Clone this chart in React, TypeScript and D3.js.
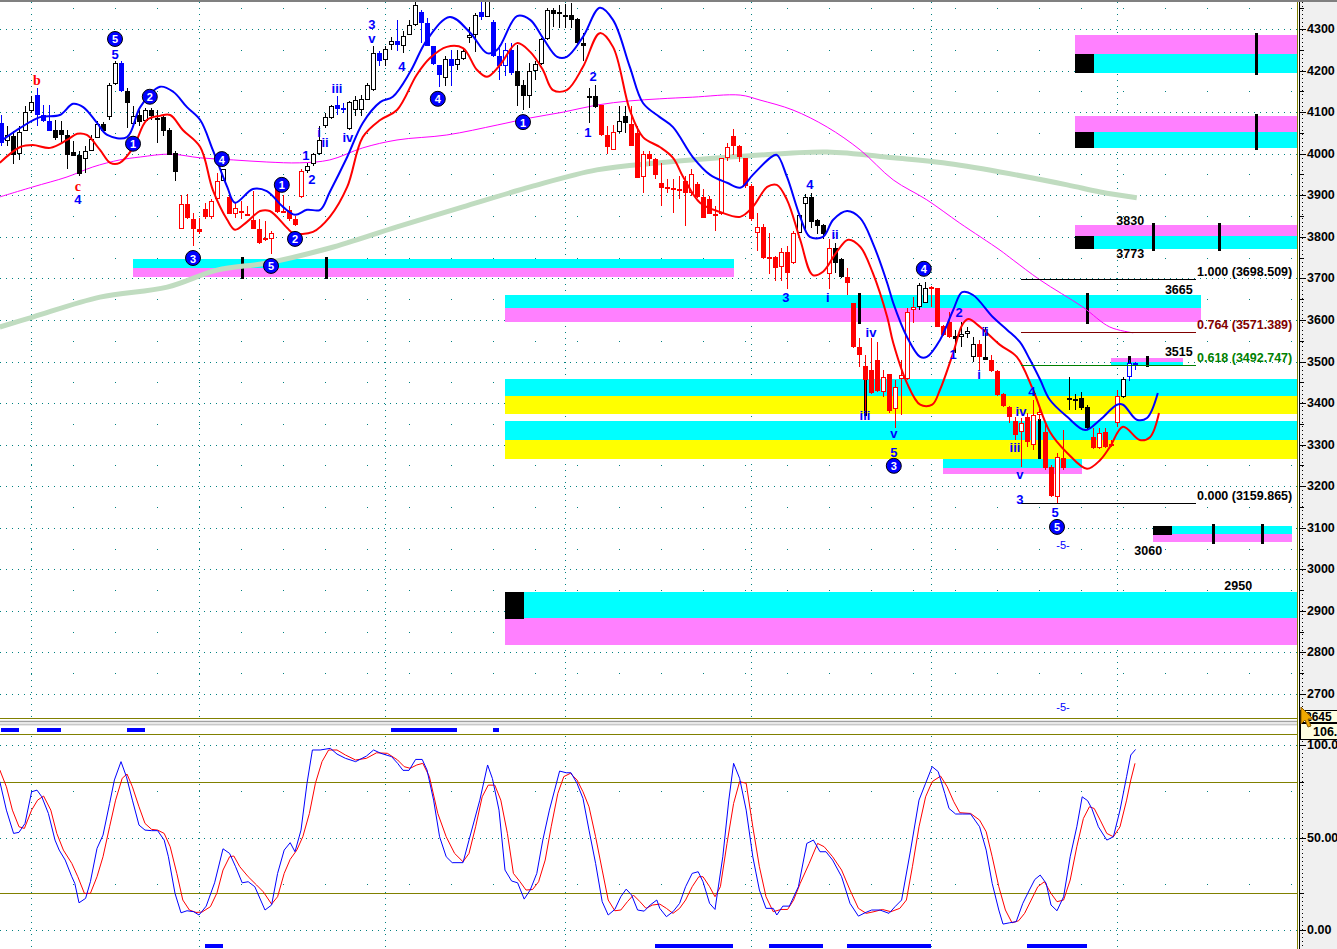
import React from 'react';
import * as d3 from 'd3';

const FONT = '"Liberation Sans", Arial, sans-serif';

// one candle per bar: open, high, low, close
const bars = [
  [4074,4094,4018,4026],[4030,4066,4018,4046],[4042,4054,3974,3998],[4000,4066,3986,4052],[4054,4114,4054,4100],
  [4102,4138,4098,4124],[4142,4158,4066,4094],[4092,4116,4076,4078],[4078,4118,4054,4054],[4058,4082,4034,4038],
  [4058,4078,4026,4046],[4046,4058,3962,3998],[4005,4030,3994,3994],[3996,4006,3946,3950],[3988,4018,3954,4006],
  [4006,4046,4006,4036],[4038,4078,4038,4072],[4072,4076,4050,4054],[4088,4170,4082,4166],[4168,4222,4166,4218],
  [4218,4222,4148,4150],[4150,4158,4062,4122],[4072,4114,4070,4090],[4092,4106,4066,4076],[4078,4110,4076,4106],
  [4104,4110,4082,4090],[4080,4106,4026,4086],[4088,4090,4042,4054],[4058,4062,3998,3998],[4002,4006,3934,3956],
  [3818,3900,3818,3880],[3880,3902,3842,3846],[3844,3858,3778,3818],[3820,3846,3806,3812],[3866,3882,3842,3848],
  [3848,3890,3842,3885],[3890,3954,3890,3934],[3934,3962,3934,3962],[3896,3906,3854,3856],[3856,3882,3846,3870],
  [3862,3886,3842,3858],[3856,3874,3850,3852],[3840,3910,3818,3818],[3820,3842,3782,3786],[3797,3838,3790,3792],
  [3794,3814,3758,3810],[3920,3922,3858,3860],[3862,3900,3858,3860],[3864,3874,3838,3842],[3842,3850,3826,3828],
  [3896,3962,3894,3958],[3958,3978,3954,3970],[3974,4002,3970,4000],[4000,4066,3998,4032],[4066,4098,4062,4088],
  [4086,4118,4084,4114],[4118,4138,4094,4108],[4110,4122,4098,4104],[4060,4126,4058,4124],[4106,4138,4090,4128],
  [4104,4142,4090,4132],[4130,4170,4128,4166],[4154,4258,4150,4242],[4242,4246,4210,4222],[4226,4258,4210,4252],
  [4262,4280,4250,4270],[4270,4322,4246,4262],[4258,4294,4242,4282],[4286,4322,4286,4310],[4310,4370,4308,4358],
  [4342,4346,4266,4314],[4314,4326,4258,4260],[4260,4260,4214,4216],[4214,4214,4160,4190],[4182,4234,4164,4228],
  [4228,4250,4164,4210],[4214,4250,4202,4228],[4228,4252,4226,4248],[4278,4306,4266,4286],[4286,4338,4244,4334],
  [4340,4370,4322,4328],[4330,4390,4328,4368],[4318,4322,4232,4234],[4236,4262,4178,4210],[4210,4266,4186,4250],
  [4250,4266,4190,4194],[4200,4262,4114,4164],[4166,4178,4106,4138],[4140,4218,4110,4200],[4200,4222,4178,4216],
  [4216,4278,4214,4276],[4276,4350,4274,4346],[4346,4350,4306,4336],[4335,4358,4302,4340],[4334,4360,4302,4332],
  [4334,4362,4302,4322],[4324,4326,4262,4266],[4266,4290,4222,4260],[4134,4158,4074,4140],[4140,4166,4110,4112],
  [4116,4118,4042,4044],[4046,4066,4000,4016],[4010,4070,4008,4052],[4052,4114,4050,4078],[4090,4114,4050,4074],
  [4072,4114,4018,4018],[4050,4066,3942,3942],[3944,4006,3906,4000],[4000,4006,3970,3988],[3988,3990,3938,3948],
  [3930,3978,3874,3918],[3920,3938,3906,3917],[3918,3938,3858,3912],[3915,3946,3890,3910],[3934,3946,3826,3906],
  [3906,3962,3898,3950],[3926,3932,3894,3896],[3896,3914,3846,3846],[3892,3898,3854,3856],[3856,3874,3814,3850],
  [3854,3990,3852,3990],[3990,4026,3982,4016],[4042,4060,3998,4018],[4018,4022,3980,3992],[3990,3990,3918,3922],
  [3922,3926,3838,3842],[3810,3858,3766,3824],[3824,3830,3746,3750],[3748,3810,3710,3752],[3752,3754,3694,3724],
  [3728,3772,3694,3764],[3764,3778,3674,3712],[3738,3814,3734,3810],[3810,3858,3810,3852],[3880,3902,3818,3896],
  [3896,3906,3822,3836],[3840,3842,3806,3826],[3828,3832,3794,3806],[3710,3794,3674,3774],[3774,3786,3714,3738],
  [3746,3750,3702,3704],[3704,3724,3660,3690],[3640,3640,3532,3534],[3536,3556,3487,3516],[3489,3515,3376,3455],
  [3479,3556,3423,3425],[3503,3548,3427,3430],[3427,3479,3415,3463],[3469,3471,3375,3382],[3385,3455,3339,3439],
  [3457,3503,3371,3467],[3457,3628,3455,3620],[3625,3656,3592,3630],[3630,3688,3625,3684],[3641,3692,3640,3676],
  [3675,3682,3632,3680],[3676,3676,3584,3584],[3585,3588,3561,3564],[3596,3620,3556,3558],[3561,3576,3520,3553],
  [3558,3596,3536,3566],[3566,3584,3556,3573],[3511,3558,3499,3542],[3543,3551,3479,3510],[3510,3584,3503,3503],
  [3503,3515,3475,3478],[3478,3479,3417,3419],[3422,3425,3391,3394],[3391,3393,3351,3367],[3357,3367,3311,3323],
  [3331,3363,3247,3351],[3367,3375,3295,3307],[3299,3407,3287,3371],[3371,3391,3359,3379],[3331,3353,3240,3243],
  [3247,3251,3175,3176],[3173,3279,3159,3271],[3267,3334,3240,3243],[3411,3463,3383,3407],[3409,3423,3383,3406],
  [3411,3427,3383,3387],[3391,3395,3335,3339],[3319,3339,3289,3291],[3291,3339,3289,3327],[3331,3339,3291,3295],
  [3297,3311,3295,3302],[3353,3431,3342,3417],[3415,3463,3411,3459],[3462,3504,3452,3496],[3496,3500,3480,3488],
];
// B blue, K black, R red
const barColors =
  'BKKKKKBBBK' + 'KKKKKKKKKK' + 'BKKKKKKKKK' + 'RRRRRRRKRR' + 'RRRRRRRRRR' +
  'RKKKKKBBKK' + 'KKKBKKBKKK' + 'BBBBKBKKKK' + 'BKBBBBKKKK' + 'KKKKKKKKKK' +
  'RRRKKRRRRR' + 'RRRRRRRRRR' + 'RRRRRRRRRR' + 'RRRKKKKKRK' + 'KRRRRRRRRR' +
  'RRRKKRRRRK' + 'KKKRKRRRRR' + 'RRRRRRRRKK' + 'KKRRRRRKBB';

// moving averages, [bar, price]
const blueMA = [
  [-0.2,4028],[3.2,4062],[6.5,4088],[9.8,4093],[12,4120],[13.7,4112],[16,4074],[17.7,4045],[21,4040],
  [23.2,4112],[26.5,4161],[28.7,4149],[31,4112],[33.2,4081],[35.3,4009],[37.7,3920],[39,3882],[42,3915],
  [44.3,3910],[47,3872],[49,3853],[51,3865],[53.2,3865],[54.8,3908],[57.7,3992],[60.3,4074],[63.2,4124],
  [65.3,4137],[68.2,4197],[71,4274],[74.8,4329],[78.2,4291],[81,4242],[82.7,4250],[86,4331],[88.2,4322],
  [90.3,4279],[92.7,4233],[94.3,4233],[97,4281],[99.8,4351],[102,4322],[104.8,4209],[107,4122],[109.8,4088],
  [112,4064],[115.3,3992],[118.2,3949],[121,3930],[123.2,3918],[125.3,3949],[128.2,3990],[129.3,3997],
  [131,3944],[133.2,3848],[134.8,3800],[137,3800],[138.7,3841],[141,3862],[143.2,3845],[145.3,3785],
  [147.7,3689],[148.7,3641],[151,3559],[153.2,3511],[154.3,3511],[156.5,3552],[158.7,3624],[160.2,3667],
  [162,3660],[165.3,3607],[167.7,3576],[169.8,3547],[171.5,3504],[173.2,3456],[174.8,3408],[177.7,3367],
  [180.7,3335],[183.2,3360],[186,3396],[187,3396],[189.3,3360],[191,3364],[192.8,3424],
];
const redMA = [
  [-0.2,3978],[3.2,4016],[5.3,4021],[8.2,4014],[11,4033],[12.7,4048],[14.3,4045],[16.5,4009],[18.2,3978],
  [19.8,3978],[22,4014],[24.3,4081],[26.5,4091],[28.2,4093],[30.3,4057],[33.2,4016],[35.3,3913],[37.7,3841],
  [39,3817],[41,3836],[43.2,3862],[44.8,3862],[47.7,3821],[48.7,3809],[52,3812],[54.8,3848],[57.7,3920],
  [60.3,4040],[63.2,4081],[66,4105],[69.3,4190],[71.5,4230],[74.3,4257],[77,4254],[79.3,4202],[81,4185],
  [83.2,4214],[86,4266],[88.2,4245],[90.3,4202],[92,4153],[94.3,4153],[97,4209],[99.8,4290],[102,4257],
  [104.8,4105],[107,4040],[109.8,4016],[112,3990],[113.7,3944],[116.5,3882],[119.8,3860],[123.2,3848],
  [125.3,3872],[127.7,3920],[129.3,3925],[131,3889],[133.2,3793],[135.3,3708],[137,3716],[139.3,3764],
  [141.2,3793],[143.2,3776],[145.3,3713],[147.7,3607],[148.7,3545],[151,3448],[153.2,3396],[155.2,3396],
  [156.5,3432],[158.7,3521],[160.2,3588],[161.2,3602],[163.2,3583],[166.5,3540],[169.3,3511],[172,3432],
  [174.8,3331],[177.7,3280],[181,3242],[183.2,3263],[184.8,3294],[187,3343],[189.8,3311],[191.5,3318],[193,3376],
];
const magentaMA = [
  [-0.2,3896],[5.3,3920],[11,3944],[15.3,3968],[19.8,3985],[23.2,3992],[28.2,3999],[33.2,3990],[38.7,3985],
  [44.3,3980],[49.8,3978],[54.8,3985],[60.3,4014],[66,4033],[74.3,4045],[82.7,4069],[88.2,4086],[93.7,4100],
  [99.3,4117],[104.8,4127],[109.8,4132],[115.3,4136],[123.2,4141],[126.5,4129],[132,4105],[137.7,4064],
  [143.2,4009],[148.7,3937],[154.3,3889],[159.8,3833],[166.5,3768],[168.7,3744],[173.2,3696],[180.3,3631],
  [184.8,3583],[188.7,3569],
];
const greenMA = [
  [-0.2,3583],[5.3,3607],[16.5,3655],[27.7,3679],[36,3720],[44.3,3737],[54.8,3773],[66,3824],[77,3872],
  [88.2,3920],[99.3,3961],[109.8,3978],[124.8,3995],[137.7,4004],[148.7,3990],[157,3978],[166.5,3956],
  [177.7,3925],[183.2,3908],[189.3,3894],
];

// stochastic %K (blue) and %D (red), [bar, value]
const stochK = [
  [-0.2,80.2],[0.9,64.8],[2.1,52.2],[3,52.8],[4,57.6],[5.1,74.7],[6,75.6],[6.8,72],[7.9,63],[9,48.6],
  [9.7,43.2],[10.7,37.8],[11.8,28.8],[12.3,25.2],[13,14.7],[14.1,17.1],[14.9,26.1],[16,44.1],[17,51.3],
  [18.1,68.4],[18.9,81.1],[20,91],[20.9,82.9],[21.9,70.2],[23,56.7],[24,54],[25.1,53.7],[26.1,53.7],
  [27.2,48.6],[27.9,39.6],[29,19.8],[30,9.3],[31,10.4],[32.1,9.9],[33,8.1],[34.2,12.9],[35.6,25.5],
  [37,43.9],[38.1,41.4],[39.1,34.2],[40.2,25.5],[41.2,26.1],[42.3,23.4],[44,10.8],[45.1,13.5],[46.1,30.6],
  [47.2,43.2],[48.2,47.2],[49,42.3],[50,54],[51,79.3],[51.9,97.3],[53.2,97.3],[54.9,98.2],[56,95.1],
  [57.4,92.8],[59.1,91],[60.9,94],[62.1,97.3],[63.3,95.5],[65.1,93.7],[66.1,90.1],[67,86.3],[68,86.3],
  [69.1,92.2],[70.2,92.2],[71,86.5],[72.1,70.2],[73.1,50.4],[74.2,39.6],[75.2,36.4],[77,36.4],[78,48.6],
  [79.8,70.2],[81.1,89.2],[81.9,81.9],[83,64.8],[84,32.4],[85.1,26.5],[86.1,25.5],[87.2,16.7],[88.2,21.6],
  [89.3,30.6],[90.3,48.6],[91.4,64.8],[93.1,85.9],[94.2,85],[95,85],[96,79.3],[97,71.1],[98,54],[99.1,36],
  [100.2,15.3],[101.2,8.1],[102.3,11.1],[103.3,18],[104.2,22.1],[105.1,18.9],[106.1,10.8],[107.2,10.2],
  [108.2,13.5],[109.3,16.2],[109.8,11.7],[110.9,7.2],[112,9.9],[113.1,14.4],[114.1,23.4],[115.2,30.6],
  [116.2,31.5],[117,26.1],[118.1,14.4],[119,11.1],[120.3,39.6],[121.3,70.2],[122.1,90.1],[123.1,82],
  [124.2,64.8],[125.3,39.6],[126.4,21.6],[127.5,11.7],[128.7,11.7],[129.3,8.1],[130.3,12.9],[131.4,12.9],
  [132.9,23.4],[134.3,46.8],[135.4,48.6],[136.5,42.3],[137.5,42.3],[138.6,37.8],[140.1,28.8],[141.5,14.4],
  [142.9,7.5],[144,9.3],[145.1,10.8],[146.5,10.8],[148,9],[149,12.6],[150.1,16.2],[151.6,43.2],[153,70.2],
  [154.1,79.3],[155.2,88.3],[156.2,85.6],[157.3,73.8],[158,65.7],[159.1,62.7],[160.2,62.7],[161.6,62.7],
  [163.1,55.8],[164.2,43.2],[165.2,25.2],[166.3,10.8],[167,3.2],[168.1,3.9],[169.2,4.5],[170.3,14.4],
  [171.4,21.6],[172.3,27.3],[173.2,29.7],[174.2,25.2],[175,13.5],[176,10.4],[177.1,18],[178.2,39.6],
  [179.3,55.8],[180.2,72],[181.1,69.9],[181.8,65.7],[182.9,55.8],[184.3,48.6],[185.4,50.4],[186.5,64.8],
  [187.6,82.9],[188.3,94.6],[189.1,97.6],
];
const stochD = [
  [-0.2,86.5],[0.9,77.4],[1.9,64.8],[3,55.8],[3.9,54.9],[5.1,64.8],[6.1,70.2],[7.1,72.4],[8.3,64.8],
  [9.3,52.2],[10.4,43.2],[11.8,36],[12.8,28.8],[13.9,19.8],[14.9,19.8],[16,28.8],[17,39.6],[18.1,55.8],
  [19.1,70.2],[20.2,82],[21,84.3],[21.9,77.4],[23,66.6],[24,57.6],[25.1,54.4],[26.1,54],[27.2,52.2],
  [28.2,45],[29.3,30.6],[30.3,16.2],[31.4,10.8],[32.5,9.5],[33.5,9.7],[34.9,12.6],[36,20.1],[37,32.4],
  [38.1,39.6],[38.8,40],[39.8,34.2],[41.2,28.8],[42.6,24.3],[43.7,20.7],[45.1,14],[46.1,18],[47.2,30.6],
  [48.2,38.2],[49.3,43.2],[50.3,50.4],[51.4,63],[52.4,79.3],[53.5,91],[54.6,97.3],[56,97.3],[57.4,94.6],
  [59.1,91.9],[60.9,92.8],[62.6,95.8],[64.4,95.5],[66.1,91.9],[67.2,88.3],[68.2,87.4],[69.3,89.2],
  [70.3,90.1],[71.4,82.9],[72.8,63],[74.2,50.4],[75.6,41.4],[77,36.9],[78,41.4],[79.1,55.8],[80.2,72],
  [81.2,78.3],[82.3,78.3],[83.3,70.2],[84.4,52.2],[85.4,30.6],[86.5,26.1],[87.5,21.6],[88.6,21.9],
  [89.6,26.1],[90.7,37.8],[91.7,55.8],[92.8,73.8],[93.8,82.9],[94.9,84.7],[96,81.1],[97,74.7],[98,66.6],
  [99.1,50.4],[100.2,32.4],[101.2,16.2],[102.3,10.4],[103.3,10.8],[104.4,15.3],[105.4,18.9],[106.5,15.3],
  [107.5,11.7],[108.6,13.5],[109.8,14],[110.9,11.7],[112,9],[113.1,11.7],[114.1,16.2],[115.2,23.4],
  [116.3,28.8],[117,28.8],[118.1,23.4],[119,18],[119.9,23.4],[121,46.8],[122.1,68.4],[123.1,80.2],
  [124.2,79.3],[125.3,55.8],[126.4,34.2],[127.5,18],[128.7,9.9],[130,11.1],[131.1,11.1],[132.1,16.2],
  [133.2,25.2],[134.7,36],[136.1,46.8],[137.2,45],[138.6,39.6],[140.1,32.4],[141.5,21.6],[142.9,11.7],
  [144.2,9],[145.5,9.9],[146.9,11.1],[148.3,9.9],[149.8,11.7],[150.9,16.2],[151.9,34.2],[153,55.8],
  [154.1,72],[155.2,80.2],[156.6,83.2],[157.7,77.4],[158.8,69.3],[159.8,63.4],[161.6,63],[163.1,59.4],
  [164.2,53.1],[165.2,39.6],[166.3,23.4],[167.4,10.8],[168.5,3.9],[169.6,5],[170.6,9],[171.7,16.2],
  [172.8,23.4],[173.9,26.1],[175,19.8],[176,15.3],[177.1,16.2],[178.2,27],[179.3,45],[180.4,60.3],
  [181.4,66.6],[182.2,65.7],[183.2,59.4],[184.3,52.2],[185.4,50.4],[186.5,55.8],[187.6,70.2],[188.3,81.1],
  [189,90.1],
];

// signal strips, [from bar, to bar]
const topSignals = [[0,3],[6,10],[21,24],[65,76],[82,83]];
const bottomSignals = [[34,37],[109,122],[128,137],[141,155],[171,181]];

const priceTicks = [4300,4200,4100,4000,3900,3800,3700,3600,3500,3400,3300,3200,3100,3000,2900,2800,2700];
const stochTicks = [100, 50, 0];
const stochTickText = ['100.0', '50.00', '0.00'];
const gridBars = [5, 33, 64, 94, 125, 155, 186];

// support / resistance zones (price bands)
const zones = [
  { from: 22, to: 122.2, hi: 3747, mid: 3725, lo: 3704, kind: 'cm', marks: [40.2, 54.2], block: false },
  { from: 84, to: 200, hi: 3660, mid: 3629, lo: 3595, kind: 'cm', marks: [143, 181], block: false },
  { from: 84, to: 216.2, hi: 3458, mid: 3417, lo: 3374, kind: 'cy', marks: [144], block: false },
  { from: 84, to: 216.2, hi: 3357, mid: 3311, lo: 3266, kind: 'cy', marks: [173], block: false },
  { from: 157, to: 180.2, hi: 3266, mid: 3244, lo: 3229, kind: 'cm', marks: [], block: false },
  { from: 185, to: 197, hi: 3509, mid: 3499, lo: 3492, kind: 'mc', marks: [188, 191], block: false },
  { from: 192, to: 215.2, hi: 3104, mid: 3085, lo: 3066, kind: 'cm', marks: [202, 210.2], block: true },
  { from: 179, to: 216.2, hi: 4286, mid: 4240, lo: 4194, kind: 'mc', marks: [209.2], block: true },
  { from: 179, to: 216.2, hi: 4091, mid: 4052, lo: 4014, kind: 'mc', marks: [209.2], block: true },
  { from: 179, to: 216.2, hi: 3829, mid: 3802, lo: 3771, kind: 'mc', marks: [192, 203], block: true },
  { from: 84, to: 216.2, hi: 2946, mid: 2883, lo: 2818, kind: 'cm', marks: [], block: true },
];
const zoneLabels = [
  [196.3, 3672, '3665'], [196.3, 3524, '3515'], [188.2, 3838, '3830'],
  [188.2, 3759, '3773'], [191.2, 3044, '3060'], [206.2, 2960, '2950'],
];

// fibonacci retracement
const fibHigh = 3698.509;
const fibLow = 3159.865;
const fibLevels = [1.0, 0.764, 0.618, 0.0];
const fibColors = ['#000000', '#800000', '#008000', '#000000'];
const fibSpan = [170, 199.2];

// wave counts, [bar, price, label]
const circleLabels = [
  [19, 4276, '5'], [24.8, 4137, '2'], [22, 4024, '1'], [36.8, 3987, '4'], [46.8, 3925, '1'],
  [32, 3749, '3'], [49, 3795, '2'], [45, 3730, '5'], [72.8, 4132, '4'], [87, 4076, '1'],
  [153.8, 3723, '4'], [148.8, 3249, '3'], [176, 3102, '5'],
];
const blueTexts = [
  [19, 4238, '5'], [12.8, 3889, '4'], [50.8, 3995, '1'], [51.8, 3939, '2'], [53, 4052, 'i'], [54, 4028, 'ii'],
  [56, 4158, 'iii'], [57.8, 4038, 'iv'], [61.8, 4310, '3'], [61.8, 4276, 'v'], [66.8, 4209, '4'],
  [98.7, 4185, '2'], [97.8, 4050, '1'], [134.8, 3925, '4'], [139, 3805, 'ii'], [130.8, 3653, '3'],
  [137.8, 3653, 'i'], [145, 3569, 'iv'], [144, 3369, 'iii'], [148.8, 3326, 'v'], [148.8, 3282, '5'],
  [159.7, 3617, '2'], [158.7, 3516, '1'], [164, 3571, 'ii'], [163, 3468, 'i'], [171.8, 3427, '4'],
  [170, 3379, 'iv'], [169, 3292, 'iii'], [169.8, 3227, 'v'], [169.8, 3169, '3'], [175.7, 3136, '5'],
];
const redTexts = [[6, 4175, 'b'], [12.8, 3920, 'c']];
const smallTexts = [[177, 3059, '-5-'], [177, 2669, '-5-']];

const CANDLE: Record<string, string> = { B: '#0000ff', K: '#000000', R: '#ff0000' };
const BANDS: Record<string, string[]> = {
  cm: ['#00ffff', '#ff80ff'],
  mc: ['#ff80ff', '#00ffff'],
  cy: ['#00ffff', '#ffff00'],
};

export default function App() {
  const x = d3.scaleLinear().domain([0, 216]).range([1, 1297]);
  const y = d3.scaleLinear().domain([4300, 2700]).range([29, 694]);
  const ys = d3.scaleLinear().domain([0, 100]).range([930, 745]);

  const maLine = d3.line<number[]>().x(d => x(d[0])).y(d => y(d[1])).curve(d3.curveCatmullRom.alpha(0.5));
  const stLine = d3.line<number[]>().x(d => x(d[0])).y(d => ys(d[1]));

  const px = (v: number) => Math.round(x(v));
  const PR = 1297;

  return (
    <div style={{ position: 'absolute', left: 0, top: 0, width: 1337, height: 949, overflow: 'hidden', background: '#fff' }}>
      <svg width={1337} height={949} style={{ display: 'block' }} fontFamily={FONT}>
        <defs>
          <clipPath id="pclip"><rect x={0} y={2} width={PR} height={716} /></clipPath>
          <clipPath id="sclip"><rect x={0} y={736} width={PR} height={213} /></clipPath>
        </defs>
        <rect x={0} y={0} width={1337} height={949} fill="#fff" />

        {/* price panel */}
        <g clipPath="url(#pclip)">
          {priceTicks.map(p => (
            <line key={'g' + p} x1={0} x2={PR} y1={Math.round(y(p)) + 0.5} y2={Math.round(y(p)) + 0.5}
              stroke="#008080" strokeDasharray="1,5" />
          ))}
          {priceTicks.map(p => (
            <line key={'h' + p} x1={31} x2={PR} y1={Math.round(y(p + 50)) + 0.5} y2={Math.round(y(p + 50)) + 0.5}
              stroke="#008080" strokeDasharray="1,41" />
          ))}
          {gridBars.map(b => (
            <line key={'v' + b} x1={px(b) + 0.5} x2={px(b) + 0.5} y1={2} y2={718} stroke="#008080" strokeDasharray="1,5" />
          ))}

          {zones.map((z, k) => {
            const x0 = px(z.from);
            const x1 = Math.min(px(z.to), PR);
            const [c1, c2] = BANDS[z.kind];
            const yh = Math.round(y(z.hi)), ym = Math.round(y(z.mid)), yl = Math.round(y(z.lo));
            return (
              <g key={'z' + k}>
                <rect x={x0} y={yh} width={x1 - x0} height={ym - yh} fill={c1} />
                <rect x={x0} y={ym} width={x1 - x0} height={yl - ym} fill={c2} />
                {z.block && (c1 === '#00ffff'
                  ? <rect x={x0} y={yh} width={19} height={ym - yh + 1} fill="#000" />
                  : <rect x={x0} y={ym} width={19} height={yl - ym} fill="#000" />)}
                {z.marks.map((m, j) => (
                  <line key={j} x1={px(m) + 0.5} x2={px(m) + 0.5} y1={yh - 2} y2={yl + 2} stroke="#000" strokeWidth={3} />
                ))}
              </g>
            );
          })}

          <path d={maLine(greenMA) || ''} fill="none" stroke="#c0dcc0" strokeWidth={5} />
          <path d={maLine(magentaMA) || ''} fill="none" stroke="#ff00ff" strokeWidth={1} />

          {bars.map((b, i) => {
            const [o, h, l, c] = b;
            const cx = px(i);
            const col = CANDLE[barColors[i]];
            const top = Math.round(y(Math.max(o, c)));
            const bot = Math.round(y(Math.min(o, c)));
            return (
              <g key={'c' + i}>
                <line x1={cx + 0.5} x2={cx + 0.5} y1={Math.round(y(h))} y2={Math.round(y(l))} stroke={col} />
                {c > o
                  ? <rect x={cx - 1.5} y={top + 0.5} width={4} height={Math.max(1, bot - top - 1)} fill="#fff" stroke={col} />
                  : <rect x={cx - 2} y={top} width={5} height={Math.max(2, bot - top)} fill={col} />}
              </g>
            );
          })}

          <path d={maLine(blueMA) || ''} fill="none" stroke="#0000ff" strokeWidth={2} />
          <path d={maLine(redMA) || ''} fill="none" stroke="#ff0000" strokeWidth={2} />

          {fibLevels.map((r, k) => {
            const p = fibLow + r * (fibHigh - fibLow);
            const yy = Math.round(y(p)) + 0.5;
            return (
              <g key={'f' + k}>
                <line x1={px(fibSpan[0])} x2={px(fibSpan[1])} y1={yy} y2={yy} stroke={fibColors[k]} />
                <text x={px(fibSpan[1]) + 1} y={yy - 8} dominantBaseline="central" fontSize={12.5} fontWeight="bold"
                  fill={fibColors[k]}>{`${r.toFixed(3)} (${p.toFixed(3)})`}</text>
              </g>
            );
          })}

          {zoneLabels.map(([b, p, t], k) => (
            <text key={'zl' + k} x={x(b as number)} y={y(p as number)} textAnchor="middle" dominantBaseline="central"
              fontSize={12.5} fontWeight="bold" fill="#000">{t}</text>
          ))}

          {blueTexts.map(([b, p, t], k) => (
            <text key={'bt' + k} x={x(b as number)} y={y(p as number)} textAnchor="middle" dominantBaseline="central"
              fontSize={13} fontWeight="bold" fill="#0000ff">{t}</text>
          ))}
          {redTexts.map(([b, p, t], k) => (
            <text key={'rt' + k} x={x(b as number)} y={y(p as number)} textAnchor="middle" dominantBaseline="central"
              fontSize={14} fontWeight="bold" fontFamily='"Liberation Serif", serif' fill="#ff0000">{t}</text>
          ))}
          {smallTexts.map(([b, p, t], k) => (
            <text key={'st' + k} x={x(b as number)} y={y(p as number)} textAnchor="middle" dominantBaseline="central"
              fontSize={11} fill="#0000ff">{t}</text>
          ))}
          {circleLabels.map(([b, p, t], k) => (
            <g key={'cl' + k}>
              <circle cx={x(b as number)} cy={y(p as number)} r={7.5} fill="#0000ff" stroke="#000" strokeWidth={1} />
              <text x={x(b as number)} y={y(p as number) + 0.5} textAnchor="middle" dominantBaseline="central"
                fontSize={11} fontWeight="bold" fill="#fff">{t}</text>
            </g>
          ))}
        </g>

        {/* separator and signal strip */}
        <line x1={0} x2={PR} y1={718.5} y2={718.5} stroke="#808000" />
        <rect x={0} y={720} width={PR} height={6} fill="#e8e8e8" />
        <line x1={0} x2={PR} y1={721.5} y2={721.5} stroke="#a0a0a0" />
        <line x1={0} x2={PR} y1={724.5} y2={724.5} stroke="#c8c8c8" />
        {topSignals.map(([a, b], k) => (
          <rect key={'ts' + k} x={px(a)} y={728} width={px(b) - px(a)} height={4} fill="#0000ff" />
        ))}
        <line x1={0} x2={PR} y1={734.5} y2={734.5} stroke="#808000" />

        {/* stochastic panel */}
        <g clipPath="url(#sclip)">
          {[100, 75, 50, 25, 0].map(v => (
            <line key={'sg' + v} x1={v % 50 === 0 ? 0 : 31} x2={PR} y1={Math.round(ys(v)) + 0.5} y2={Math.round(ys(v)) + 0.5}
              stroke="#008080" strokeDasharray={v % 50 === 0 ? '1,5' : '1,41'} />
          ))}
          {gridBars.map(b => (
            <line key={'sv' + b} x1={px(b) + 0.5} x2={px(b) + 0.5} y1={736} y2={949} stroke="#008080" strokeDasharray="1,5" />
          ))}
          <line x1={0} x2={PR} y1={Math.round(ys(80)) + 0.5} y2={Math.round(ys(80)) + 0.5} stroke="#808000" />
          <line x1={0} x2={PR} y1={Math.round(ys(20)) + 0.5} y2={Math.round(ys(20)) + 0.5} stroke="#808000" />
          <path d={stLine(stochD) || ''} fill="none" stroke="#ff0000" strokeWidth={1} />
          <path d={stLine(stochK) || ''} fill="none" stroke="#0000ff" strokeWidth={1} />
          {bottomSignals.map(([a, b], k) => (
            <rect key={'bs' + k} x={px(a)} y={944} width={px(b) - px(a)} height={4} fill="#0000ff" />
          ))}
        </g>

        {/* right axis */}
        <rect x={1299} y={0} width={38} height={949} fill="#f0f0f0" />
        <line x1={1297.5} x2={1297.5} y1={0} y2={949} stroke="#808000" />
        <line x1={1299.5} x2={1299.5} y1={0} y2={949} stroke="#000" />
        <line x1={1302.5} x2={1302.5} y1={2} y2={716} stroke="#000" strokeDasharray="1,3" />
        <line x1={1302.5} x2={1302.5} y1={737} y2={949} stroke="#000" strokeDasharray="1,3" />
        {priceTicks.map(p => (
          <g key={'a' + p}>
            <line x1={1300} x2={1306} y1={Math.round(y(p)) + 0.5} y2={Math.round(y(p)) + 0.5} stroke="#000" />
            <line x1={1300} x2={1304} y1={Math.round(y(p + 50)) + 0.5} y2={Math.round(y(p + 50)) + 0.5} stroke="#000" />
            <text x={1307} y={y(p)} dominantBaseline="central" fontSize={12.5} fontWeight="bold" fill="#000">{p}</text>
          </g>
        ))}
        {stochTicks.map((v, k) => (
          <g key={'sa' + v}>
            <line x1={1300} x2={1306} y1={Math.round(ys(v)) + 0.5} y2={Math.round(ys(v)) + 0.5} stroke="#000" />
            <text x={1307} y={ys(v)} dominantBaseline="central" fontSize={12.5} fontWeight="bold" fill="#000">{stochTickText[k]}</text>
          </g>
        ))}
        {[80, 20].map(v => (
          <line key={'sm' + v} x1={1300} x2={1304} y1={Math.round(ys(v)) + 0.5} y2={Math.round(ys(v)) + 0.5} stroke="#000" />
        ))}

        {/* cursor read-outs */}
        <rect x={1300.5} y={710.5} width={37} height={12} fill="#ffffe1" stroke="#000" />
        <text x={1305} y={717} dominantBaseline="central" fontSize={12} fontWeight="bold" fill="#000">2645</text>
        <rect x={1300.5} y={723.5} width={37} height={16} fill="#ffffe1" stroke="#000" />
        <text x={1313} y={732} dominantBaseline="central" fontSize={12.5} fontWeight="bold" fill="#000">106.</text>
        <path d="M1301,707 L1301,724 L1305,720 L1308,727 L1311,726 L1308,719 L1313,719 Z" fill="#f0a800" stroke="#8a5a00" />

        <line x1={0} x2={1337} y1={1} y2={1} stroke="#808080" strokeWidth={2} />
      </svg>
    </div>
  );
}
